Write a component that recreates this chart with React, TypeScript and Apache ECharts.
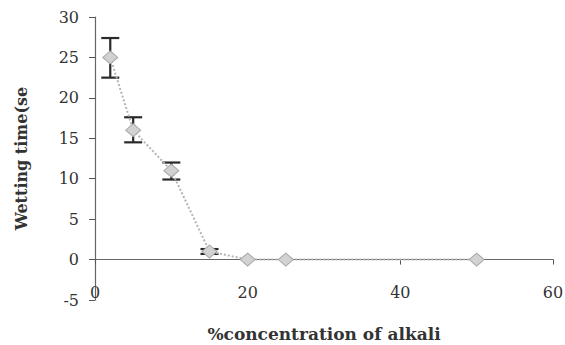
import React, { useEffect, useRef } from "react";
import * as echarts from "echarts";

const concentration = [2, 5, 10, 15, 20, 25, 50];
const wettingTime = [25, 16, 11, 1, 0, 0, 0];
const errLow = [22.5, 14.5, 9.9, 0.7, 0, 0, 0];
const errHigh = [27.4, 17.6, 12.0, 1.3, 0, 0, 0];
const xTicks = [0, 20, 40, 60];
const yTicks = [-5, 0, 5, 10, 15, 20, 25, 30];

const serif = "DejaVu Serif";

export default function App() {
  const ref = useRef<HTMLDivElement>(null);
  useEffect(() => {
    if (!ref.current) return;
    document.body.style.margin = "0";
    const chart = echarts.init(ref.current, undefined, { renderer: "svg" });
    const errData = concentration
      .map((x, i) => [x, errLow[i], errHigh[i]])
      .filter((d) => d[2] - d[1] > 0);
    chart.setOption({
      animation: false,
      backgroundColor: "#ffffff",
      grid: { left: 95, right: 12, top: 17, bottom: 45, containLabel: false, outerBoundsMode: "none" },
      xAxis: {
        type: "value",
        min: xTicks[0],
        max: xTicks[xTicks.length - 1],
        interval: 20,
        splitLine: { show: false },
        axisLine: { onZero: true, lineStyle: { color: "#666", width: 1.2 } },
        axisTick: { show: true, length: 5, lineStyle: { color: "#555" } },
        axisLabel: {
          margin: -16,
          color: "#333",
          fontFamily: serif,
          fontSize: 16,
        },
        name: "%concentration of alkali",
        nameLocation: "middle",
        nameGap: 25,
        nameTextStyle: {
          fontFamily: "DejaVu Serif",
          fontWeight: "bold",
          fontSize: 17,
          color: "#333",
        },
      },
      yAxis: {
        type: "value",
        min: yTicks[0],
        max: yTicks[yTicks.length - 1],
        interval: 5,
        splitLine: { show: false },
        axisLine: { onZero: false, lineStyle: { color: "#666", width: 1.2 } },
        axisTick: { show: true, length: 6, lineStyle: { color: "#555" } },
        axisLabel: {
          margin: 16,
          color: "#333",
          fontFamily: serif,
          fontSize: 16,
        },
        name: "Wetting time(se",
        nameLocation: "middle",
        nameGap: 66,
        nameTextStyle: {
          fontFamily: "DejaVu Serif",
          fontWeight: "bold",
          fontSize: 16,
          color: "#333",
        },
      },
      series: [
        {
          type: "line",
          data: concentration.map((x, i) => [x, wettingTime[i]]),
          symbol: "diamond",
          symbolSize: [15, 13],
          lineStyle: { color: "#b5b5b5", width: 2, type: "dotted" },
          itemStyle: { color: "#d2d2d2", borderColor: "#a8a8a8", borderWidth: 1 },
          z: 3,
        },
        {
          type: "custom",
          data: errData,
          z: 2,
          renderItem: (params: any, api: any) => {
            const x = api.value(0);
            const lo = api.coord([x, api.value(1)]);
            const hi = api.coord([x, api.value(2)]);
            const hw = 9;
            const style = { stroke: "#2a2a2a", lineWidth: 2.2 };
            return {
              type: "group",
              children: [
                { type: "line", shape: { x1: lo[0], y1: lo[1], x2: hi[0], y2: hi[1] }, style },
                { type: "line", shape: { x1: lo[0] - hw, y1: lo[1], x2: lo[0] + hw, y2: lo[1] }, style },
                { type: "line", shape: { x1: hi[0] - hw, y1: hi[1], x2: hi[0] + hw, y2: hi[1] }, style },
              ],
            };
          },
        },
      ],
    });
    return () => chart.dispose();
  }, []);
  return <div ref={ref} style={{ width: 565, height: 345 }} />;
}
